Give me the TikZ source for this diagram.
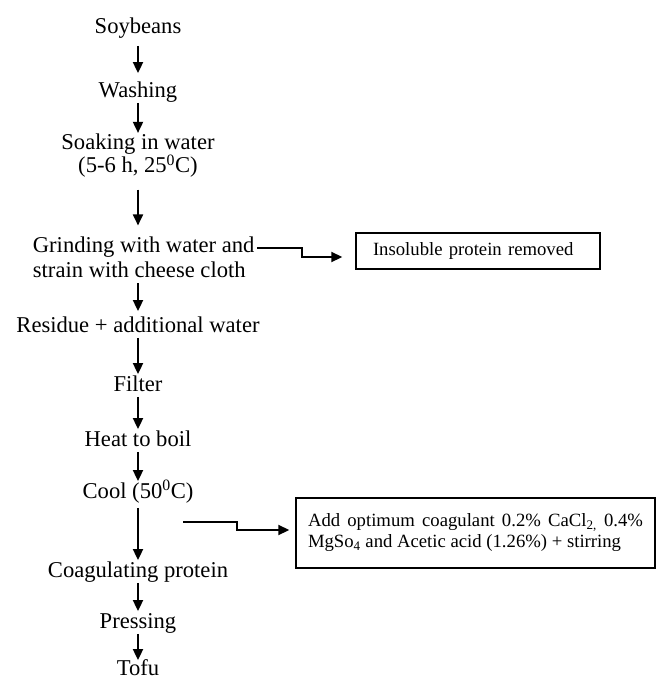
\documentclass[tikz,border=0pt]{standalone}
\usepackage{fontspec}
\setmainfont{Liberation Serif}
\usepackage{tikz}
\usetikzlibrary{arrows.meta,calc}

\tikzset{
  stage/.style={inner sep=0pt, text height=16pt, text depth=5pt, anchor=base,
    font=\fontsize{22.6}{24}\selectfont},
  stagetwo/.style={inner sep=0pt, align=center, font=\fontsize{22.6}{24}\selectfont},
  sidebox/.style={draw, line width=1.4pt, inner ysep=0pt, font=\fontsize{18.7}{21}\selectfont}
}

\begin{document}
\begin{tikzpicture}[x=1pt, y=-1pt, >={Triangle[length=11pt,width=10pt]}, line width=1.8pt]

  \useasboundingbox (0,0) rectangle (657,681);

  % Define nodes

  \node[stage] (soy) at (138,33) {Soybeans};
  \node[stage] (wash) at (138,97) {Washing};
  \node[stagetwo] (soak) at (138,155.8) {Soaking in water\\[-0.5pt](5-6 h, 25\textsuperscript{0}C)};
  \node[stagetwo, align=left, anchor=west] (grind) at (32,256.8) {Grinding with water and\\[1pt]strain with cheese cloth};
  \node[stage] (resid) at (138,332) {Residue + additional water};
  \node[stage] (filter) at (138,391) {Filter};
  \node[stage] (heat) at (138,446) {Heat to boil};
  \node[stage] (cool) at (138,498) {Cool (50\textsuperscript{0}C)};
  \node[stage] (coag) at (138,577) {Coagulating protein};
  \node[stage] (press) at (138,628) {Pressing};
  \node[stage] (tofu) at (138,675) {Tofu};
  \node[sidebox, text width=210pt, align=left, inner xsep=17pt, minimum height=36pt] (insol) at (478,251) {Insoluble protein removed};
  \node[sidebox, text width=335pt, align=justify, inner xsep=12pt, minimum height=70pt] (addcoag) at (475.5,533) {Add optimum coagulant 0.2\% CaCl\textsubscript{2,} 0.4\% MgSo\textsubscript{4} and Acetic acid (1.26\%) + stirring};
  \coordinate (gout) at (257,248);
  \coordinate (cout) at (183,522);
  % Draw arrows
  \draw[->, shorten <=7pt, shorten >=7pt] (soy) -- (wash);
  \draw[->] (wash) -- (soak);
  \draw[->, shorten <=11pt, shorten >=10pt] (soak) -- (soak |- grind.north);
  \draw[->, shorten <=5pt, shorten >=4pt] (grind.south -| resid) -- (resid);
  \draw[->] (resid) -- (filter);
  \draw[->] (filter) -- (heat);
  \draw[->] (heat) -- (cool);
  \draw[->, shorten <=4pt] (cool) -- (coag);
  \draw[->] (coag) -- (press);
  \draw[->, shorten >=-2pt] (press) -- (tofu);
  \draw[->, shorten >=13pt] (gout) -- ++(45,0) |- ($(insol.west)+(0,6)$);
  \draw[->, shorten >=6pt] (cout) -- ++(54,0) |- ($(addcoag.west)+(0,-3)$);
\end{tikzpicture}
\end{document}
